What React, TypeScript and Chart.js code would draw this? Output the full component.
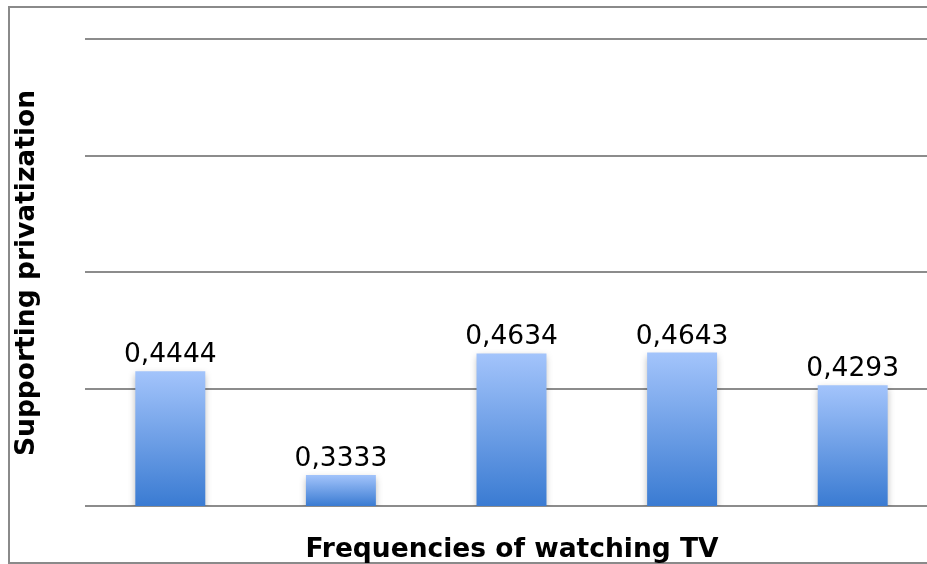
import React, { useEffect, useRef } from "react";
import { Chart, registerables } from "chart.js";

Chart.register(...registerables);

const categories = ["1", "2", "3", "4", "5"];
const values = [0.4444, 0.3333, 0.4634, 0.4643, 0.4293];
const valueLabels = ["0,4444", "0,3333", "0,4634", "0,4643", "0,4293"];
const xTitle = "Frequencies of watching TV";
const yTitle = "Supporting privatization";

const FONT = "'DejaVu Sans', Verdana, sans-serif";

const framePlugin = {
  id: "frame",
  beforeDraw(chart: any) {
    const ctx = chart.ctx;
    ctx.save();
    ctx.fillStyle = "#ffffff";
    ctx.fillRect(0, 0, chart.width, chart.height);
    ctx.strokeStyle = "#8a8a8a";
    ctx.lineWidth = 2;
    ctx.beginPath();
    ctx.moveTo(chart.width + 5, 7);
    ctx.lineTo(9, 7);
    ctx.lineTo(9, 563);
    ctx.lineTo(chart.width + 5, 563);
    ctx.stroke();
    ctx.restore();
  },
  afterDraw(chart: any) {
    const ctx = chart.ctx;
    ctx.save();
    ctx.fillStyle = "#000000";
    ctx.font = `bold 26.5px ${FONT}`;
    ctx.textAlign = "center";
    ctx.textBaseline = "alphabetic";
    ctx.fillText(xTitle, 512, 557);
    ctx.translate(34, 273);
    ctx.rotate(-Math.PI / 2);
    ctx.fillText(yTitle, 0, 0);
    ctx.restore();
  },
};

const shadowPlugin = {
  id: "barShadow",
  beforeDatasetDraw(chart: any) {
    const ctx = chart.ctx;
    ctx.save();
    ctx.shadowColor = "rgba(0,0,0,0.3)";
    ctx.shadowBlur = 7;
    ctx.shadowOffsetY = 3;
  },
  afterDatasetDraw(chart: any) {
    chart.ctx.restore();
  },
};

const labelPlugin = {
  id: "valueLabels",
  afterDatasetsDraw(chart: any) {
    const ctx = chart.ctx;
    const meta = chart.getDatasetMeta(0);
    ctx.save();
    ctx.fillStyle = "#000000";
    ctx.font = `26.5px ${FONT}`;
    ctx.textAlign = "center";
    ctx.textBaseline = "alphabetic";
    meta.data.forEach((bar: any, i: number) => {
      ctx.fillText(valueLabels[i], bar.x, bar.y - 9);
    });
    ctx.restore();
  },
};

export default function App() {
  const ref = useRef<HTMLCanvasElement>(null);
  useEffect(() => {
    document.body.style.margin = "0";
    const chart = new Chart(ref.current!, {
      type: "bar",
      data: {
        labels: categories,
        datasets: [
          {
            data: values,
            backgroundColor: (c: any) => {
              const ch = c.chart;
              if (!ch.chartArea || c.parsed == null) return "#5b93e0";
              const y = ch.scales.y;
              const top = y.getPixelForValue(c.parsed.y);
              const bottom = y.getPixelForValue(y.min);
              const g = ch.ctx.createLinearGradient(0, top, 0, bottom);
              g.addColorStop(0, "#a3c4fb");
              g.addColorStop(1, "#3a7bd2");
              return g;
            },
            borderWidth: 0,
            categoryPercentage: 0.41,
            barPercentage: 1,
          },
        ],
      },
      options: {
        responsive: false,
        animation: false,
        layout: { padding: { left: 85, top: 39, right: 0, bottom: 58 } },
        plugins: { legend: { display: false }, tooltip: { enabled: false } },
        scales: {
          x: {
            grid: { display: false, drawTicks: false },
            border: { display: false },
            ticks: { display: false },
          },
          y: {
            min: 0.3,
            max: 0.8,
            ticks: { display: false, stepSize: 0.125 },
            grid: { color: "#8c8c8c", lineWidth: 2, drawTicks: false },
            border: { display: false },
          },
        },
      },
      plugins: [framePlugin, shadowPlugin, labelPlugin],
    });
    return () => chart.destroy();
  }, []);
  return (
    <div style={{ position: "fixed", left: 0, top: 0, width: 927, height: 564, overflow: "hidden" }}>
      <canvas ref={ref} width={938} height={564} style={{ display: "block" }} />
    </div>
  );
}
